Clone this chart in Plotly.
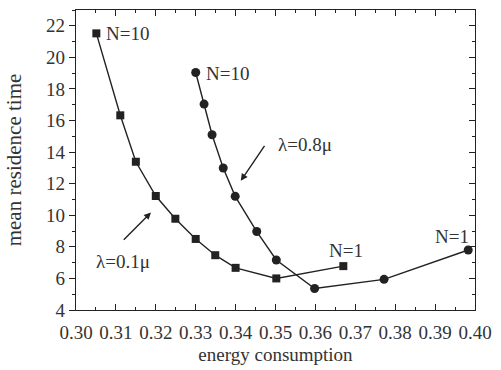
import plotly.graph_objects as go

# λ = 0.1μ (squares), N = 10 ... 1
sq_x = [0.3051, 0.3111, 0.3150, 0.3200, 0.3249, 0.3300, 0.3349, 0.3400, 0.3502, 0.3670]
sq_y = [21.52, 16.33, 13.39, 11.22, 9.78, 8.50, 7.47, 6.67, 6.00, 6.78]

# λ = 0.8μ (circles), N = 10 ... 1
ci_x = [0.3300, 0.3321, 0.3341, 0.3369, 0.3399, 0.3453, 0.3502, 0.3598, 0.3772, 0.3983]
ci_y = [19.04, 17.04, 15.10, 12.99, 11.20, 8.97, 7.17, 5.36, 5.94, 7.80]

x_ticks = [0.30, 0.31, 0.32, 0.33, 0.34, 0.35, 0.36, 0.37, 0.38, 0.39, 0.40]
y_ticks = [4, 6, 8, 10, 12, 14, 16, 18, 20, 22]

FONT = "Liberation Serif"
INK = "#222222"
TXT = "#333333"

fig = go.Figure()
fig.add_trace(go.Scatter(x=sq_x, y=sq_y, mode="lines+markers",
                         line=dict(color=INK, width=1.4),
                         marker=dict(symbol="square", size=8, color=INK),
                         showlegend=False))
fig.add_trace(go.Scatter(x=ci_x, y=ci_y, mode="lines+markers",
                         line=dict(color=INK, width=1.4),
                         marker=dict(symbol="circle", size=9, color=INK),
                         showlegend=False))
# invisible trace for the right axis
fig.add_trace(go.Scatter(x=[0.30], y=[4], yaxis="y2", mode="markers",
                         marker=dict(opacity=0), showlegend=False, hoverinfo="skip"))

labels = [
    ("N=10", 0.3129, 21.5),
    ("N=10", 0.3379, 19.0),
    ("N=1", 0.3676, 7.75),
    ("N=1", 0.3943, 8.67),
    ("λ=0.8μ", 0.3573, 14.49),
    ("λ=0.1μ", 0.3119, 7.1),
]
for t, x, y in labels:
    fig.add_annotation(x=x, y=y, text=t, showarrow=False,
                       font=dict(family=FONT, size=19, color=TXT))

arrows = [
    (0.3413, 12.18, 0.3475, 14.49),
    (0.3188, 10.18, 0.3116, 8.36),
]
for x, y, ax, ay in arrows:
    fig.add_annotation(x=x, y=y, ax=ax, ay=ay, axref="x", ayref="y",
                       xref="x", yref="y", text="", showarrow=True,
                       arrowhead=2, arrowsize=1, arrowwidth=1.4, arrowcolor=INK)

axis_common = dict(showline=True, linecolor=INK, linewidth=1.2, showgrid=False,
                   zeroline=False, tickcolor=INK, ticklen=6, tickwidth=1.2,
                   tickfont=dict(family=FONT, size=19, color=TXT))

fig.update_layout(
    width=501, height=370,
    margin=dict(l=76, r=20, t=9, b=57),
    paper_bgcolor="white", plot_bgcolor="white",
    xaxis=dict(range=[0.30, 0.40], tickvals=x_ticks,
               ticktext=[f"{v:.2f}" for v in x_ticks],
               ticks="inside", mirror="ticks", ticklabelstandoff=5,
               minor=dict(ticks="inside", dtick=0.005, ticklen=3, tickcolor=INK),
               title=dict(text="energy consumption", standoff=5,
                          font=dict(family=FONT, size=19, color=TXT)),
               **axis_common),
    yaxis=dict(range=[4, 23], tickvals=y_ticks, ticks="outside",
               minor=dict(ticks="outside", dtick=1, ticklen=3, tickcolor=INK),
               title=dict(text="mean residence time", standoff=18,
                          font=dict(family=FONT, size=21, color=TXT)),
               **axis_common),
    yaxis2=dict(range=[4, 23], overlaying="y", side="right", tickvals=y_ticks,
                ticks="inside", showticklabels=False,
                minor=dict(ticks="inside", dtick=1, ticklen=3, tickcolor=INK),
                **axis_common),
)

fig.write_html("out.html")
